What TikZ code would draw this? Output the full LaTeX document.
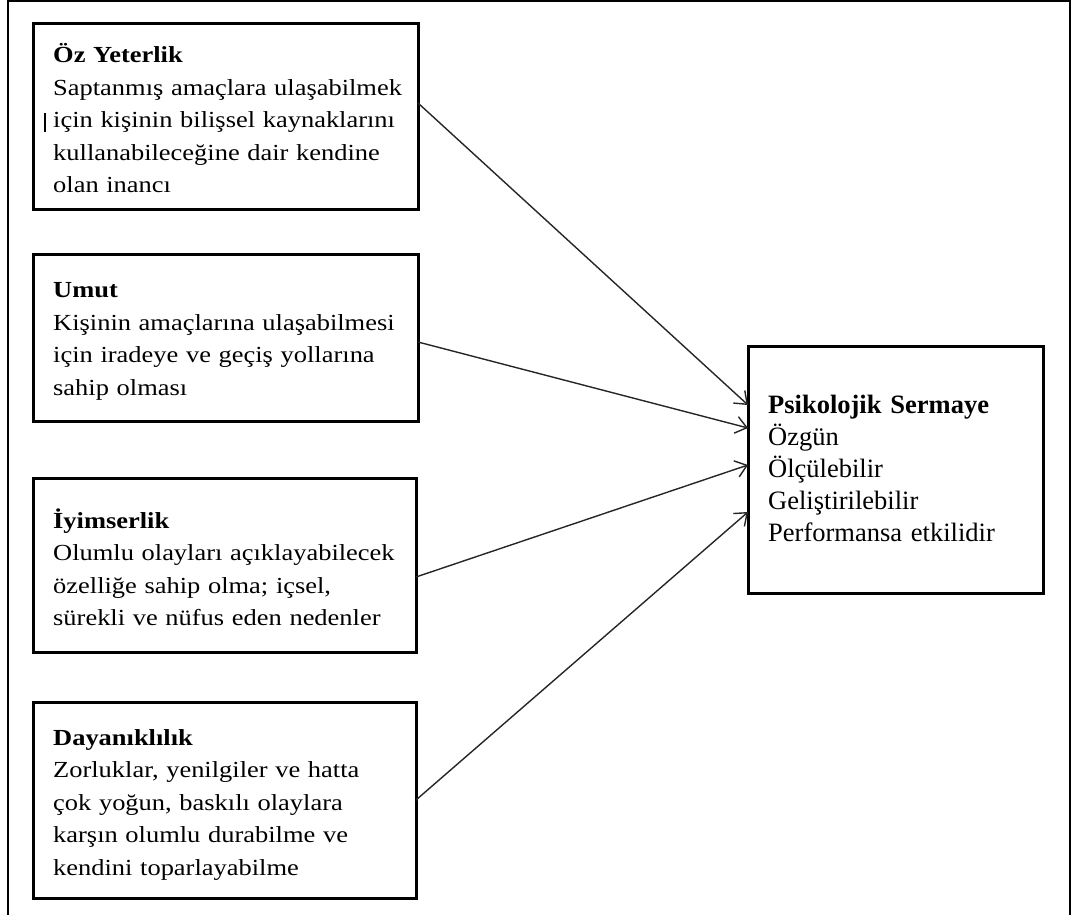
\documentclass[tikz,border=0pt]{standalone}
\usepackage{fontspec}
\setmainfont{Liberation Serif}
\newfontfamily\wideserif{Liberation Serif}[FakeStretch=1.15]
\usetikzlibrary{arrows.meta}
\begin{document}
\begin{tikzpicture}[x=1pt,y=-1pt,
  box/.style={draw=black,line width=3pt,rectangle,outer sep=0pt,inner sep=0pt,anchor=north west},
  txt/.style={anchor=base west,inner sep=0pt,text width=380pt,align=left,font={\wideserif\fontsize{23}{32.5}\selectfont}},
  rtxt/.style={anchor=base west,inner sep=0pt,text width=270pt,align=left,font={\fontsize{26.5}{32}\selectfont}},
  arr/.style={line width=1.4pt,draw=black!85,-{Straight Barb[length=11pt,width=17pt,line width=1.4pt]}},
  frame/.style={line width=2pt,draw=black}]
\useasboundingbox (0,0) rectangle (1072,915);
\draw[frame] (7.5,915) -- (7.5,1) -- (1070,1) -- (1070,915);
% boxes
\node[box,minimum width=385pt,minimum height=186pt] (b1) at (33,24) {};
\node[box,minimum width=385pt,minimum height=167pt] (b2) at (33,254) {};
\node[box,minimum width=383pt,minimum height=174pt] (b3) at (33,478) {};
\node[box,minimum width=383pt,minimum height=196pt] (b4) at (33,702) {};
\node[box,minimum width=295pt,minimum height=247pt] (ps) at (748,346) {};
% texts
\node[txt] (t1) at (53,63) {\textbf{Öz Yeterlik}\\Saptanmış amaçlara ulaşabilmek\\için kişinin bilişsel kaynaklarını\\kullanabileceğine dair kendine\\olan inancı};
\node[txt] (t2) at (53,298) {\textbf{Umut}\\Kişinin amaçlarına ulaşabilmesi\\için iradeye ve geçiş yollarına\\sahip olması};
\node[txt] (t3) at (53,528) {\textbf{İyimserlik}\\Olumlu olayları açıklayabilecek\\özelliğe sahip olma; içsel,\\sürekli ve nüfus eden nedenler};
\node[txt] (t4) at (53,745) {\textbf{Dayanıklılık}\\Zorluklar, yenilgiler ve hatta\\çok yoğun, baskılı olaylara\\karşın olumlu durabilme ve\\kendini toparlayabilme};
\node[rtxt] (t5) at (768,413) {\textbf{Psikolojik Sermaye}\\Özgün\\Ölçülebilir\\Geliştirilebilir\\Performansa etkilidir};
% cursor mark
\draw[line width=2.5pt] (45,113) -- (45,132);
% connectors
\coordinate (s1) at (b1.east |- 0,103);
\coordinate (s2) at (b2.east |- 0,342);
\coordinate (s3) at (b3.east |- 0,577);
\coordinate (s4) at (b4.east |- 0,800);
\coordinate (e1) at (ps.west |- 0,405);
\coordinate (e2) at (ps.west |- 0,428);
\coordinate (e3) at (ps.west |- 0,465);
\coordinate (e4) at (ps.west |- 0,512);
\draw[arr] (s1) -- (e1);
\draw[arr] (s2) -- (e2);
\draw[arr] (s3) -- (e3);
\draw[arr] (s4) -- (e4);
\end{tikzpicture}
\end{document}
